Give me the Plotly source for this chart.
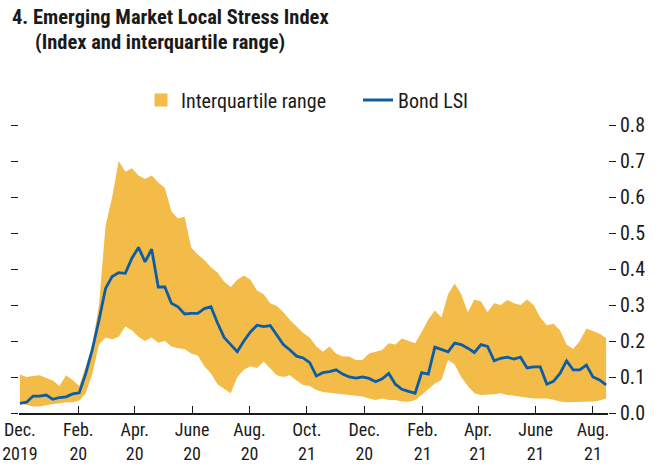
import pandas as pd
import plotly.graph_objects as go

# weekly observations starting Dec 1, 2019
start_date = "2019-12-01"
n_obs = 90
dates = pd.date_range(start_date, periods=n_obs, freq="7D")

bond_lsi = [
    0.027, 0.030, 0.047, 0.047, 0.050, 0.038, 0.043, 0.045, 0.053, 0.056,
    0.110, 0.177, 0.258, 0.346, 0.379, 0.390, 0.388, 0.430, 0.460, 0.420,
    0.455, 0.350, 0.350, 0.305, 0.295, 0.275, 0.277, 0.277, 0.290, 0.295,
    0.250, 0.210, 0.190, 0.170, 0.200, 0.225, 0.244, 0.240, 0.243, 0.215,
    0.190, 0.175, 0.158, 0.153, 0.140, 0.103, 0.112, 0.115, 0.120, 0.108,
    0.100, 0.097, 0.100, 0.096, 0.087, 0.095, 0.110, 0.080, 0.066, 0.060,
    0.055, 0.112, 0.108, 0.183, 0.176, 0.170, 0.194, 0.190, 0.180, 0.168,
    0.190, 0.185, 0.145, 0.152, 0.155, 0.150, 0.155, 0.125, 0.128, 0.128,
    0.080, 0.088, 0.110, 0.145, 0.120, 0.120, 0.133, 0.100, 0.092, 0.078,
]

iqr_upper = [
    0.107, 0.100, 0.103, 0.105, 0.097, 0.090, 0.075, 0.105, 0.092, 0.075,
    0.130, 0.190, 0.300, 0.520, 0.600, 0.700, 0.670, 0.680, 0.660, 0.650,
    0.660, 0.640, 0.625, 0.560, 0.540, 0.545, 0.460, 0.440, 0.425, 0.405,
    0.390, 0.365, 0.350, 0.370, 0.382, 0.370, 0.340, 0.330, 0.305, 0.297,
    0.280, 0.258, 0.240, 0.222, 0.210, 0.185, 0.170, 0.185, 0.165, 0.157,
    0.157, 0.147, 0.147, 0.165, 0.170, 0.175, 0.194, 0.190, 0.207, 0.200,
    0.194, 0.225, 0.260, 0.285, 0.265, 0.330, 0.360, 0.330, 0.280, 0.315,
    0.310, 0.280, 0.305, 0.300, 0.314, 0.305, 0.300, 0.315, 0.300, 0.265,
    0.244, 0.248, 0.230, 0.190, 0.178, 0.200, 0.235, 0.228, 0.220, 0.208,
]

iqr_lower = [
    0.027, 0.022, 0.018, 0.018, 0.022, 0.025, 0.027, 0.030, 0.030, 0.035,
    0.055, 0.110, 0.190, 0.210, 0.205, 0.212, 0.240, 0.230, 0.212, 0.200,
    0.210, 0.195, 0.200, 0.185, 0.180, 0.178, 0.165, 0.160, 0.130, 0.110,
    0.080, 0.068, 0.055, 0.100, 0.120, 0.130, 0.125, 0.143, 0.125, 0.105,
    0.100, 0.105, 0.090, 0.078, 0.075, 0.064, 0.058, 0.056, 0.055, 0.052,
    0.050, 0.050, 0.046, 0.040, 0.036, 0.040, 0.036, 0.036, 0.032, 0.031,
    0.036, 0.050, 0.065, 0.082, 0.092, 0.147, 0.135, 0.100, 0.075, 0.055,
    0.050, 0.050, 0.052, 0.055, 0.050, 0.048, 0.045, 0.042, 0.040, 0.040,
    0.040, 0.037, 0.032, 0.030, 0.030, 0.031, 0.030, 0.032, 0.035, 0.040,
]

tick_dates = ["2019-12-01", "2020-02-01", "2020-04-01", "2020-06-01", "2020-08-01",
              "2020-10-01", "2020-12-01", "2021-02-01", "2021-04-01", "2021-06-01",
              "2021-08-01"]
tick_labels = ["Dec.<br>2019", "Feb.<br>20", "Apr.<br>20", "June<br>20", "Aug.<br>20",
               "Oct.<br>21", "Dec.<br>20", "Feb.<br>21", "Apr.<br>21", "June<br>21",
               "Aug.<br>21"]
y_ticks = [0.0, 0.1, 0.2, 0.3, 0.4, 0.5, 0.6, 0.7, 0.8]

title_line1 = "4. Emerging Market Local Stress Index"
title_line2 = "(Index and interquartile range)"

ORANGE = "#F3BB48"
BLUE = "#0B5DA8"
INK = "#1a1a1a"
FONT = "Roboto Condensed, DejaVu Sans Condensed, Liberation Sans Narrow, Arial Narrow, Liberation Sans, sans-serif"

fig = go.Figure()
fig.add_trace(go.Scatter(x=dates, y=iqr_lower, mode="lines", line=dict(width=0, color=ORANGE),
                         showlegend=False, hoverinfo="skip"))
fig.add_trace(go.Scatter(x=dates, y=iqr_upper, mode="lines", line=dict(width=0, color=ORANGE),
                         fill="tonexty", fillcolor=ORANGE, showlegend=False))
# legend entry for the band (square swatch)
fig.add_trace(go.Scatter(x=[None], y=[None], mode="markers", name="Interquartile range",
                         marker=dict(symbol="square", size=13, color=ORANGE)))
fig.add_trace(go.Scatter(x=dates, y=bond_lsi, mode="lines", line=dict(width=2.8, color=BLUE),
                         name="Bond LSI"))
# invisible trace to drive the left axis ticks
fig.add_trace(go.Scatter(x=dates[:1], y=[None], yaxis="y2", showlegend=False, hoverinfo="skip"))

fig.update_layout(
    width=660, height=466,
    margin=dict(l=19, r=52, t=125, b=53, autoexpand=False),
    paper_bgcolor="white", plot_bgcolor="white",
    font=dict(family=FONT, size=19, color=INK),
    showlegend=True,
    legend=dict(orientation="h", x=(141 - 19) / 589, y=1 + (125 - 100) / 288,
                xanchor="left", yanchor="middle", traceorder="normal",
                font=dict(size=20), itemwidth=30, tracegroupgap=0,
                entrywidth=172, entrywidthmode="pixels",
                bgcolor="rgba(0,0,0,0)"),
    xaxis=dict(type="date", range=["2019-11-30", "2021-08-17"], automargin=False,
               tickvals=tick_dates, ticktext=tick_labels, tickangle=0,
               ticks="inside", ticklen=7, tickwidth=1.3, tickcolor=INK,
               showline=True, linecolor=INK, linewidth=1.5,
               showgrid=False, zeroline=False, tickfont=dict(size=18)),
    yaxis=dict(range=[0, 0.8], side="right", tickvals=y_ticks, automargin=False,
               ticktext=[f"{v:.1f}" for v in y_ticks],
               ticks="outside", ticklen=7, tickwidth=1.3, tickcolor=INK,
               showline=False, showgrid=False, zeroline=False, tickfont=dict(size=20)),
    yaxis2=dict(range=[0, 0.8], side="left", overlaying="y", tickvals=y_ticks,
                automargin=False,
                showticklabels=False, ticks="outside", ticklen=7, tickwidth=1.3,
                tickcolor=INK, showline=False, showgrid=False, zeroline=False),
)

fig.add_annotation(text="<b>" + title_line1 + "</b>", xref="paper", yref="paper",
                   x=-19/589, y=1 + (125 - 17)/288, xanchor="left", yanchor="middle",
                   showarrow=False, font=dict(size=20.5, color=INK), xshift=10)
fig.add_annotation(text="<b>" + title_line2 + "</b>", xref="paper", yref="paper",
                   x=-19/589, y=1 + (125 - 42)/288, xanchor="left", yanchor="middle",
                   showarrow=False, font=dict(size=20.5, color=INK), xshift=33)

fig.write_html("out.html", config={"displayModeBar": False},
               post_script="document.body.style.margin='0';document.body.style.padding='0';")
